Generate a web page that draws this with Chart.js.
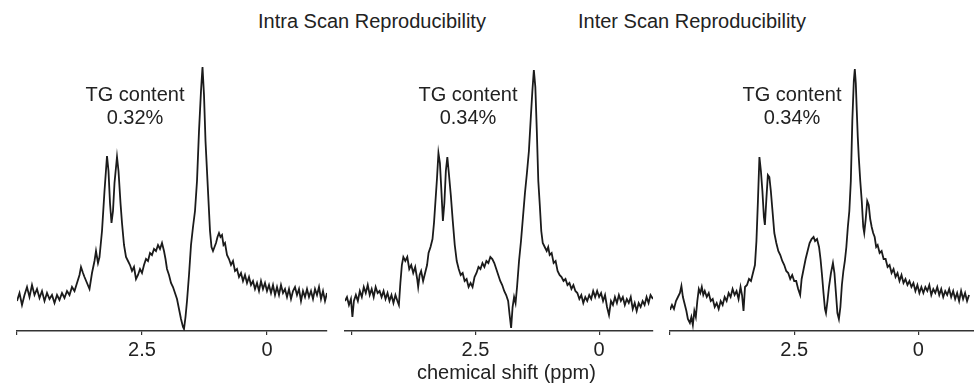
<!DOCTYPE html>
<html>
<head>
<meta charset="utf-8">
<script src="https://cdn.jsdelivr.net/npm/chart.js@4/dist/chart.umd.min.js"></script>
<style>
  body { margin: 0; width: 974px; height: 385px; overflow: hidden; background: #fff; position: relative;
         font-family: "Liberation Sans", Arial, sans-serif; color: #222; }
  .box { position: absolute; top: 0; height: 385px; }
  .txt { position: absolute; font-size: 20px; line-height: 22.5px; white-space: nowrap; }
  .tg { text-align: center; width: 140px; }
</style>
</head>
<body>

<div class="txt" style="left:258px; top:10px;">Intra Scan Reproducibility</div>
<div class="txt" style="left:578px; top:10px;">Inter Scan Reproducibility</div>

<div class="box" style="left:0px; width:340px;"><canvas id="spec1"></canvas></div>
<div class="box" style="left:330px; width:330px;"><canvas id="spec2"></canvas></div>
<div class="box" style="left:660px; width:330px;"><canvas id="spec3"></canvas></div>

<div class="txt tg" style="left:65px; top:83px;">TG content<br>0.32%</div>
<div class="txt tg" style="left:398px; top:83px;">TG content<br>0.34%</div>
<div class="txt tg" style="left:722px; top:83px;">TG content<br>0.34%</div>

<div class="txt" style="left:417px; top:361px;">chemical shift (ppm)</div>

<script>
// tick positions on the ppm axis (only 2.5 and 0 get a label)
const tickValues = [5, 2.5, 0];

// spectrum 1 - intra scan, first acquisition (ppm, signal height)
const ppm1 = [5.0, 4.95, 4.9, 4.85, 4.8, 4.75, 4.7, 4.65, 4.6, 4.55, 4.5, 4.45, 4.4, 4.35, 4.3, 4.25, 4.2, 4.15, 4.1, 4.05,
  4.0, 3.95, 3.9, 3.85, 3.8, 3.75, 3.72, 3.68, 3.65, 3.6, 3.55, 3.5, 3.45, 3.42, 3.38, 3.35, 3.3, 3.25, 3.2, 3.17,
  3.14, 3.11, 3.08, 3.05, 3.0, 2.97, 2.93, 2.9, 2.86, 2.82, 2.78, 2.74, 2.7, 2.66, 2.62, 2.58, 2.54, 2.5, 2.46, 2.42,
  2.38, 2.34, 2.3, 2.26, 2.22, 2.18, 2.14, 2.1, 2.06, 2.03, 2.0, 1.96, 1.92, 1.88, 1.84, 1.8, 1.76, 1.72, 1.68, 1.66,
  1.63, 1.6, 1.56, 1.52, 1.48, 1.44, 1.4, 1.36, 1.32, 1.29, 1.26, 1.23, 1.2, 1.17, 1.14, 1.11, 1.08, 1.05, 1.02, 0.99,
  0.96, 0.93, 0.9, 0.87, 0.84, 0.8, 0.76, 0.72, 0.68, 0.64, 0.6, 0.56, 0.52, 0.48, 0.44, 0.4, 0.36, 0.32, 0.28, 0.24,
  0.2, 0.16, 0.12, 0.08, 0.04, 0.0, -0.04, -0.08, -0.12, -0.16, -0.2, -0.24, -0.28, -0.32, -0.36, -0.4, -0.44, -0.48, -0.52, -0.56,
  -0.6, -0.64, -0.68, -0.72, -0.76, -0.8, -0.84, -0.88, -0.92, -0.96, -1.0, -1.04, -1.08, -1.12, -1.16, -1.2];
const sig1 = [30, 38, 26, 36, 44, 34, 46, 36, 42, 33, 40, 30, 38, 32, 36, 28, 36, 31, 38, 33,
  40, 36, 44, 40, 48, 56, 64, 58, 54, 48, 42, 58, 70, 80, 68, 74, 100, 140, 175, 160,
  128, 108, 120, 148, 174, 160, 128, 108, 86, 74, 70, 66, 60, 64, 52, 56, 62, 58, 66, 72,
  70, 78, 76, 82, 80, 86, 82, 88, 80, 72, 62, 56, 48, 44, 38, 32, 22, 12, 4, 2,
  14, 30, 56, 86, 104, 120, 150, 200, 240, 264, 236, 190, 160, 130, 100, 84, 80, 84, 88, 94,
  98, 94, 96, 86, 88, 76, 72, 66, 70, 60, 62, 54, 58, 50, 56, 48, 54, 46, 50, 42,
  48, 40, 50, 42, 48, 40, 46, 38, 46, 36, 44, 36, 46, 38, 42, 34, 42, 32, 40, 44,
  36, 42, 30, 40, 34, 42, 34, 40, 32, 42, 36, 44, 32, 40, 30, 38];

// spectrum 2 - intra scan, repeated acquisition
const ppm2 = [5.14, 5.1, 5.06, 5.02, 4.99, 4.96, 4.92, 4.88, 4.84, 4.8, 4.76, 4.72, 4.68, 4.64, 4.6, 4.56, 4.52, 4.48, 4.44, 4.4,
  4.36, 4.32, 4.28, 4.24, 4.2, 4.16, 4.12, 4.08, 4.05, 4.02, 3.99, 3.96, 3.92, 3.88, 3.84, 3.8, 3.76, 3.72, 3.68, 3.66,
  3.63, 3.6, 3.56, 3.52, 3.48, 3.45, 3.41, 3.37, 3.34, 3.31, 3.28, 3.25, 3.22, 3.19, 3.16, 3.13, 3.1, 3.07, 3.04, 3.0,
  2.96, 2.92, 2.88, 2.84, 2.8, 2.76, 2.72, 2.68, 2.64, 2.6, 2.56, 2.52, 2.48, 2.44, 2.4, 2.36, 2.32, 2.28, 2.24, 2.2,
  2.16, 2.12, 2.08, 2.04, 2.0, 1.96, 1.92, 1.88, 1.84, 1.81, 1.78, 1.75, 1.72, 1.69, 1.66, 1.62, 1.58, 1.54, 1.5, 1.46,
  1.42, 1.38, 1.35, 1.32, 1.29, 1.26, 1.23, 1.2, 1.17, 1.14, 1.1, 1.06, 1.03, 1.0, 0.96, 0.92, 0.88, 0.84, 0.8, 0.76,
  0.72, 0.68, 0.64, 0.6, 0.56, 0.52, 0.48, 0.44, 0.4, 0.36, 0.32, 0.28, 0.24, 0.2, 0.16, 0.12, 0.08, 0.04, 0.0, -0.04,
  -0.08, -0.12, -0.16, -0.2, -0.24, -0.28, -0.32, -0.36, -0.4, -0.44, -0.48, -0.52, -0.56, -0.6, -0.64, -0.68, -0.72, -0.76, -0.8, -0.84,
  -0.88, -0.92, -0.96, -1.0, -1.04, -1.09];
const sig2 = [30, 34, 26, 32, 14, 30, 36, 30, 40, 34, 44, 38, 46, 36, 42, 34, 44, 38, 40, 34,
  40, 32, 38, 30, 36, 28, 36, 30, 26, 48, 66, 74, 70, 74, 62, 66, 58, 64, 52, 44,
  56, 60, 50, 58, 66, 78, 84, 92, 108, 130, 152, 178, 168, 140, 110, 128, 160, 174, 158, 136,
  110, 86, 70, 62, 56, 58, 50, 52, 44, 48, 44, 54, 58, 64, 62, 68, 64, 70, 68, 74,
  72, 68, 62, 56, 50, 46, 40, 36, 30, 16, 3, 24, 34, 28, 44, 70, 90, 114, 138, 158,
  180, 215, 240, 261, 244, 200, 150, 126, 100, 88, 84, 80, 84, 76, 78, 68, 70, 60, 56, 54,
  50, 52, 46, 48, 42, 46, 40, 38, 32, 36, 28, 34, 30, 36, 32, 40, 34, 40, 34, 38,
  30, 36, 24, 16, 30, 26, 34, 28, 36, 30, 34, 26, 32, 28, 34, 22, 28, 20, 28, 24,
  30, 26, 34, 28, 36, 32];

// spectrum 3 - inter scan
const ppm3 = [5.0, 4.96, 4.92, 4.88, 4.84, 4.8, 4.77, 4.74, 4.71, 4.67, 4.64, 4.6, 4.57, 4.54, 4.51, 4.48, 4.45, 4.42, 4.39, 4.36,
  4.33, 4.3, 4.26, 4.22, 4.18, 4.14, 4.1, 4.06, 4.02, 3.98, 3.94, 3.9, 3.86, 3.82, 3.78, 3.74, 3.7, 3.66, 3.62, 3.58,
  3.55, 3.52, 3.49, 3.45, 3.41, 3.37, 3.33, 3.29, 3.26, 3.23, 3.2, 3.17, 3.14, 3.11, 3.09, 3.06, 3.03, 3.0, 2.97, 2.94,
  2.9, 2.86, 2.82, 2.78, 2.74, 2.7, 2.66, 2.62, 2.58, 2.54, 2.5, 2.46, 2.42, 2.38, 2.35, 2.31, 2.27, 2.23, 2.19, 2.15,
  2.11, 2.08, 2.04, 2.0, 1.97, 1.94, 1.91, 1.88, 1.86, 1.83, 1.8, 1.76, 1.72, 1.69, 1.66, 1.63, 1.6, 1.57, 1.54, 1.51,
  1.48, 1.45, 1.42, 1.39, 1.36, 1.33, 1.3, 1.28, 1.26, 1.24, 1.22, 1.2, 1.17, 1.14, 1.11, 1.09, 1.06, 1.03, 1.0, 0.97,
  0.94, 0.91, 0.88, 0.85, 0.82, 0.78, 0.74, 0.7, 0.66, 0.62, 0.58, 0.54, 0.5, 0.46, 0.42, 0.38, 0.34, 0.3, 0.26, 0.22,
  0.18, 0.14, 0.1, 0.06, 0.02, -0.02, -0.06, -0.1, -0.14, -0.18, -0.22, -0.26, -0.3, -0.34, -0.38, -0.42, -0.46, -0.5, -0.54, -0.58,
  -0.62, -0.66, -0.7, -0.74, -0.78, -0.82, -0.86, -0.9, -0.94, -0.98, -1.02, -1.06, -1.1, -1.14, -1.2];
const sig3 = [21, 26, 22, 30, 34, 38, 45, 34, 28, 20, 12, 8, 14, 6, 20, 14, 30, 42, 38, 44,
  36, 40, 34, 38, 30, 32, 24, 28, 22, 30, 26, 34, 30, 38, 34, 42, 36, 40, 32, 44,
  36, 20, 44, 46, 52, 50, 58, 66, 90, 130, 174, 160, 140, 114, 106, 132, 156, 154, 140, 122,
  98, 88, 80, 76, 70, 66, 60, 58, 52, 56, 50, 50, 42, 36, 52, 62, 72, 80, 88, 92,
  94, 90, 92, 84, 72, 56, 38, 22, 18, 30, 44, 58, 68, 58, 38, 18, 12, 24, 46, 60,
  70, 84, 104, 120, 150, 210, 250, 262, 248, 220, 194, 174, 150, 130, 104, 98, 112, 130, 126, 112,
  104, 98, 94, 84, 86, 78, 80, 72, 72, 64, 66, 58, 62, 54, 58, 50, 56, 48, 52, 46,
  50, 44, 48, 40, 46, 38, 44, 38, 44, 40, 46, 36, 42, 38, 44, 36, 42, 34, 40, 36,
  42, 34, 40, 32, 38, 30, 40, 32, 38, 30, 36];

const fontFamily = '"Liberation Sans", Arial, sans-serif';

// build one spectrum panel, xMax/xMin are the ppm limits of the axis
function makeSpectrum(canvasId, ppm, sig, xMax, xMin, padLeft, padRight) {
  const points = ppm.map((p, i) => ({ x: p, y: sig[i] }));
  return new Chart(document.getElementById(canvasId), {
    type: 'line',
    data: {
      datasets: [{
        data: points,
        borderColor: '#1b1b1b',
        borderWidth: 1.8,
        pointRadius: 0,
        tension: 0,
        fill: false
      }]
    },
    options: {
      responsive: true,
      maintainAspectRatio: false,
      animation: false,
      layout: { padding: { left: padLeft, right: padRight, top: 31, bottom: 0 } },
      plugins: { legend: { display: false }, tooltip: { enabled: false } },
      scales: {
        x: {
          type: 'linear',
          reverse: true,
          min: xMin,
          max: xMax,
          afterBuildTicks: scale => { scale.ticks = tickValues.map(v => ({ value: v })); },
          afterFit: scale => { scale.height = 54; },
          border: { display: true, color: '#333', width: 1.5 },
          grid: { drawOnChartArea: false, drawTicks: true, tickLength: 4, color: '#333', lineWidth: 1.2 },
          ticks: {
            autoSkip: false,
            maxRotation: 0,
            padding: 3,
            color: '#222',
            font: { family: fontFamily, size: 20 },
            callback: value => (value === 5 ? '' : String(value))
          }
        },
        y: { display: false, min: 0, max: 300 }
      }
    }
  });
}

makeSpectrum('spec1', ppm1, sig1, 5.0, -1.2, 17, 13);
makeSpectrum('spec2', ppm2, sig2, 5.14, -1.09, 15, 7);
makeSpectrum('spec3', ppm3, sig3, 5.0, -1.2, 10, 12);
</script>
</body>
</html>
